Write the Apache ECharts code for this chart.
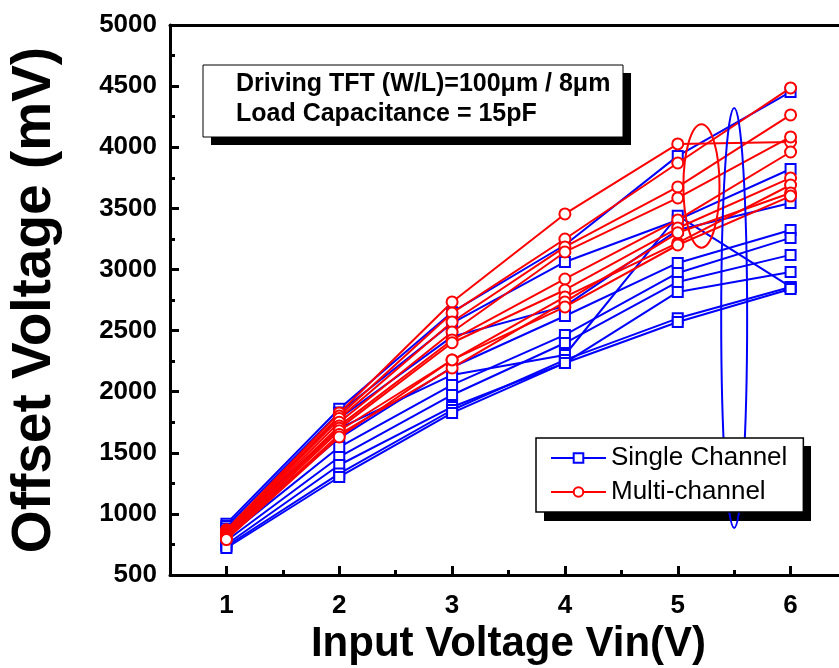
<!DOCTYPE html>
<html>
<head>
<meta charset="utf-8">
<script src="https://cdn.jsdelivr.net/npm/echarts@6/dist/echarts.min.js"></script>
<style>
html,body{margin:0;padding:0;background:#fff;}
#chart{width:839px;height:668px;}
</style>
</head>
<body>
<div id="chart"></div>
<script>
// input voltage (V)
var vin = [1, 2, 3, 4, 5, 6]
var xTicks = [1, 2, 3, 4, 5, 6]
var xMinorTicks = [1.5, 2.5, 3.5, 4.5, 5.5]

// offset voltage (mV), single channel
var single = [
    [920, 1860, 2650, 3200, 3929, 4452],
    [900, 1830, 2560, 3061, 3405, 3822],
    [880, 1780, 2450, 2700, 3323, 3544],
    [860, 1700, 2137, 2300, 3440, 2857],
    [840, 1620, 2200, 2619, 3053, 3323],
    [810, 1547, 2055, 2464, 2971, 3258],
    [780, 1466, 1973, 2398, 2898, 3119],
    [750, 1400, 1875, 2235, 2816, 2979],
    [735, 1330, 1850, 2260, 2600, 2857],
    [721, 1302, 1826, 2235, 2570, 2840]
]
// offset voltage (mV), multi-channel
var multi = [
    [870, 1826, 2734, 3454, 4027, 4043],
    [860, 1800, 2644, 3249, 3871, 4485],
    [850, 1780, 2570, 3184, 3675, 4264],
    [840, 1750, 2488, 3143, 3585, 4084],
    [830, 1720, 2423, 2922, 3405, 3961],
    [820, 1700, 2400, 2832, 3339, 3749],
    [810, 1680, 2259, 2775, 3217, 3691],
    [800, 1650, 2194, 2734, 3300, 3626],
    [790, 1629, 2260, 2693, 3200, 3600]
]

// grouping ellipses: [x, y, half-width (V), half-height (mV)]
var redLoop = [5.21, 3683, 0.16, 505]
var blueLoop = [5.5, 2603, 0.115, 1718]

var BLUE = '#0000ff'
var RED = '#ff0000'
var FONT = '"Liberation Sans", Arial, sans-serif'

function lineSeries(name, values, color, symbol, size){
    return {
        name: name,
        type: 'line',
        data: vin.map(function(x, i){ return [x, values[i]] }),
        symbol: symbol,
        symbolSize: size,
        showAllSymbol: true,
        lineStyle: {color: color, width: 2},
        itemStyle: {color: '#fff', borderColor: color, borderWidth: 2},
        emphasis: {disabled: true},
        animation: false,
        z: color == RED ? 3 : 2
    }
}

function loopSeries(loop, color){
    return {
        type: 'custom',
        clip: false,
        silent: true,
        animation: false,
        z: 4,
        data: [loop],
        renderItem: function(params, api){
            var c = api.coord([api.value(0), api.value(1)])
            var s = api.size([api.value(2), api.value(3)])
            return {
                type: 'path',
                shape: {
                    pathData: 'M0 1A1 1 0 1 0 2 1A1 1 0 1 0 0 1Z',
                    x: c[0] - s[0], y: c[1] - s[1],
                    width: 2 * s[0], height: 2 * s[1],
                    layout: 'cover'
                },
                style: {fill: 'none', stroke: color, lineWidth: 2}
            }
        }
    }
}

var series = []
single.forEach(function(v){ series.push(lineSeries('Single Channel', v, BLUE, 'rect', 10)) })
multi.forEach(function(v){ series.push(lineSeries('Multi-channel', v, RED, 'circle', 11)) })
series.push(loopSeries(redLoop, RED))
series.push(loopSeries(blueLoop, BLUE))

var chart = echarts.init(document.getElementById('chart'))
chart.setOption({
    backgroundColor: '#fff',
    textStyle: {fontFamily: FONT},
    grid: {left: 170, right: -8, top: 25, bottom: 93, containLabel: false, outerBoundsMode: 'none'},
    xAxis: [{
        type: 'value',
        min: 0.5, max: 6.5,
        name: 'Input Voltage Vin(V)',
        nameLocation: 'middle',
        nameGap: 44,
        nameTextStyle: {fontSize: 42, fontWeight: 'bold', color: '#000', fontFamily: FONT},
        axisLine: {lineStyle: {color: '#000', width: 3}},
        axisTick: {inside: true, length: 9, lineStyle: {width: 3, color: '#000'}, customValues: xTicks},
        axisLabel: {fontSize: 26, fontWeight: 'bold', color: '#000', margin: 18, customValues: xTicks, fontFamily: FONT},
        splitLine: {show: false}
    }, {
        type: 'value',
        position: 'bottom',
        min: 0.5, max: 6.5,
        axisLine: {show: false},
        axisTick: {inside: true, length: 5, lineStyle: {width: 3, color: '#000'}, customValues: xMinorTicks},
        axisLabel: {show: false},
        splitLine: {show: false}
    }, {
        type: 'value',
        position: 'top',
        min: 0.5, max: 6.5,
        axisLine: {lineStyle: {color: '#000', width: 3}},
        axisTick: {show: false},
        axisLabel: {show: false},
        splitLine: {show: false}
    }],
    yAxis: {
        type: 'value',
        min: 500, max: 5000, interval: 500,
        name: 'Offset Voltage (mV)',
        nameLocation: 'middle',
        nameGap: 108,
        nameTextStyle: {fontSize: 55, fontWeight: 'bold', color: '#000', fontFamily: FONT},
        axisLine: {lineStyle: {color: '#000', width: 3}},
        axisTick: {inside: true, length: 9, lineStyle: {width: 3, color: '#000'}},
        minorTick: {show: true, splitNumber: 2, length: 5, lineStyle: {width: 3, color: '#000'}},
        axisLabel: {fontSize: 26, fontWeight: 'bold', color: '#000', margin: 13, fontFamily: FONT,
            formatter: function(v){ return String(v) }},
        splitLine: {show: false}
    },
    legend: {
        data: ['Single Channel', 'Multi-channel'],
        orient: 'vertical',
        left: 536, top: 438,
        padding: [7, 16, 7, 14],
        itemGap: 8,
        itemWidth: 55,
        itemHeight: 12,
        backgroundColor: '#fff',
        borderColor: '#000',
        borderWidth: 1.5,
        borderRadius: 0,
        textStyle: {fontSize: 26, color: '#000', fontFamily: FONT},
        selectedMode: false,
        z: 20
    },
    graphic: [{
        // legend shadow
        type: 'rect',
        shape: {x: 544, y: 446, width: 267, height: 75},
        style: {fill: '#000'},
        z: 1
    }, {
        type: 'rect',
        shape: {x: 211, y: 73, width: 420, height: 72},
        style: {fill: '#000'},
        z: 10
    }, {
        type: 'rect',
        shape: {x: 203, y: 65, width: 420, height: 72},
        style: {fill: '#fff', stroke: '#000', lineWidth: 1},
        z: 11
    }, {
        type: 'text',
        x: 236, y: 84,
        style: {text: 'Driving TFT (W/L)=100\u03bcm / 8\u03bcm', fontSize: 25, fontWeight: 'bold', fill: '#000',
            fontFamily: FONT, verticalAlign: 'middle'},
        z: 12
    }, {
        type: 'text',
        x: 236, y: 114,
        style: {text: 'Load Capacitance = 15pF', fontSize: 25, fontWeight: 'bold', fill: '#000',
            fontFamily: FONT, verticalAlign: 'middle'},
        z: 12
    }],
    series: series
})
</script>
</body>
</html>
